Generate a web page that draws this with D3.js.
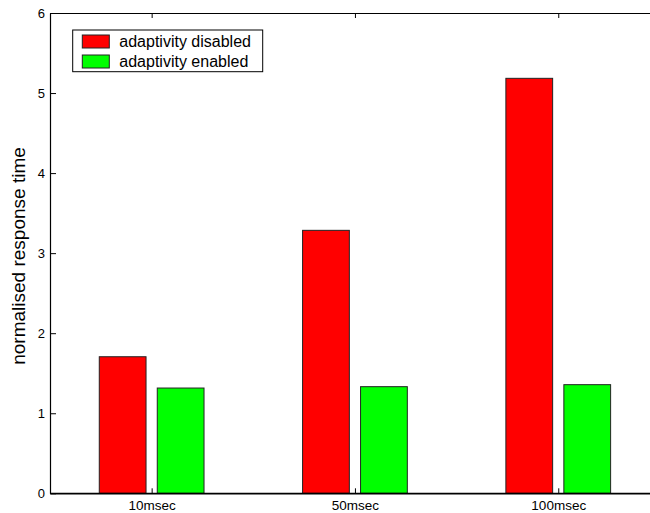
<!DOCTYPE html>
<html>
<head>
<meta charset="utf-8">
<script src="https://cdn.jsdelivr.net/npm/d3@7"></script>
<style>
  html, body { margin: 0; padding: 0; background: #fff; }
  svg { display: block; font-family: "Liberation Sans", Arial, sans-serif; }
</style>
</head>
<body>
<svg id="chart" width="650" height="513"></svg>
<script>
// Delay settings on the x axis
const categories = ["10msec", "50msec", "100msec"];
// Normalised response time per setting
const disabledValues = [1.706, 3.285, 5.184];
const enabledValues = [1.315, 1.332, 1.357];
const seriesNames = ["adaptivity disabled", "adaptivity enabled"];
const seriesColors = ["#ff0000", "#00ff00"];
const yTicks = [0, 1, 2, 3, 4, 5, 6];

const series = [disabledValues, enabledValues];

const svg = d3.select("#chart");
const plotLeft = 50, plotTop = 13, plotBottom = 493.3;

// Group positions 1..n, plotted on a 0.5..n+0.5 range
const x = d3.scaleLinear().domain([0.5, 3.5]).range([plotLeft, plotLeft + 3 * 203.3]);
const y = d3.scaleLinear().domain([0, 6]).range([plotBottom, plotTop]);

const barW = x(0.5 + 0.23) - x(0.5);
const offsets = [-0.1426, 0.1426];

// X axis (ticks pointing inward), drawn under the bars
const xAxis = d3.axisBottom(x).tickValues([1, 2, 3]).tickFormat((d, i) => categories[i])
  .tickSizeInner(-5).tickSizeOuter(0).tickPadding(7);
const gx = svg.append("g").attr("transform", `translate(0,${plotBottom})`).call(xAxis);
gx.select(".domain").attr("stroke", "#000").attr("stroke-width", 1.2);
gx.selectAll(".tick line").attr("stroke", "#000");
gx.selectAll("text").attr("font-size", 13.5).attr("fill", "#000");

// Bars
series.forEach((vals, si) => {
  svg.append("g").selectAll("rect")
    .data(vals)
    .join("rect")
    .attr("x", (d, i) => x(i + 1 + offsets[si]) - barW / 2)
    .attr("y", d => y(d))
    .attr("width", barW)
    .attr("height", d => y(0) - y(d))
    .attr("fill", seriesColors[si])
    .attr("stroke", "#222")
    .attr("stroke-width", 1);
});

// Y axis (ticks pointing inward)
const yAxis = d3.axisLeft(y).tickValues(yTicks).tickFormat(d3.format("d"))
  .tickSizeInner(-6).tickSizeOuter(0).tickPadding(11);
const gy = svg.append("g").attr("transform", `translate(${plotLeft},0)`).call(yAxis);
gy.select(".domain").attr("stroke", "#000").attr("stroke-width", 1.2);
gy.selectAll(".tick line").attr("stroke", "#000");
gy.selectAll("text").attr("font-size", 13).attr("fill", "#000").attr("dx", 6);

// Baseline redrawn over the bars
svg.append("line")
  .attr("x1", plotLeft).attr("x2", 650)
  .attr("y1", plotBottom).attr("y2", plotBottom)
  .attr("stroke", "#000").attr("stroke-width", 1.2);

// Top border with mirrored ticks
const xTop = d3.axisTop(x).tickValues([1, 2, 3]).tickFormat("").tickSizeInner(-5).tickSizeOuter(0);
const gt = svg.append("g").attr("transform", `translate(0,${plotTop})`).call(xTop);
gt.select(".domain").attr("stroke", "#000").attr("stroke-width", 1.2);
gt.selectAll(".tick line").attr("stroke", "#000");

// Y axis title
svg.append("text")
  .attr("transform", `translate(25,256) rotate(-90)`)
  .attr("text-anchor", "middle")
  .attr("font-size", 19)
  .attr("fill", "#000")
  .text("normalised response time");

// Legend
const lg = svg.append("g");
lg.append("rect")
  .attr("x", 72.7).attr("y", 30).attr("width", 190).attr("height", 41.7)
  .attr("fill", "#fff").attr("stroke", "#000").attr("stroke-width", 1);
seriesNames.forEach((name, i) => {
  const yy = 35 + i * 20;
  lg.append("rect")
    .attr("x", 82.3).attr("y", yy).attr("width", 27).attr("height", 13)
    .attr("fill", seriesColors[i]).attr("stroke", "#222").attr("stroke-width", 1);
  lg.append("text")
    .attr("x", 119.3).attr("y", yy + 11.7)
    .attr("font-size", 16).attr("fill", "#000")
    .text(name);
});
</script>
</body>
</html>
